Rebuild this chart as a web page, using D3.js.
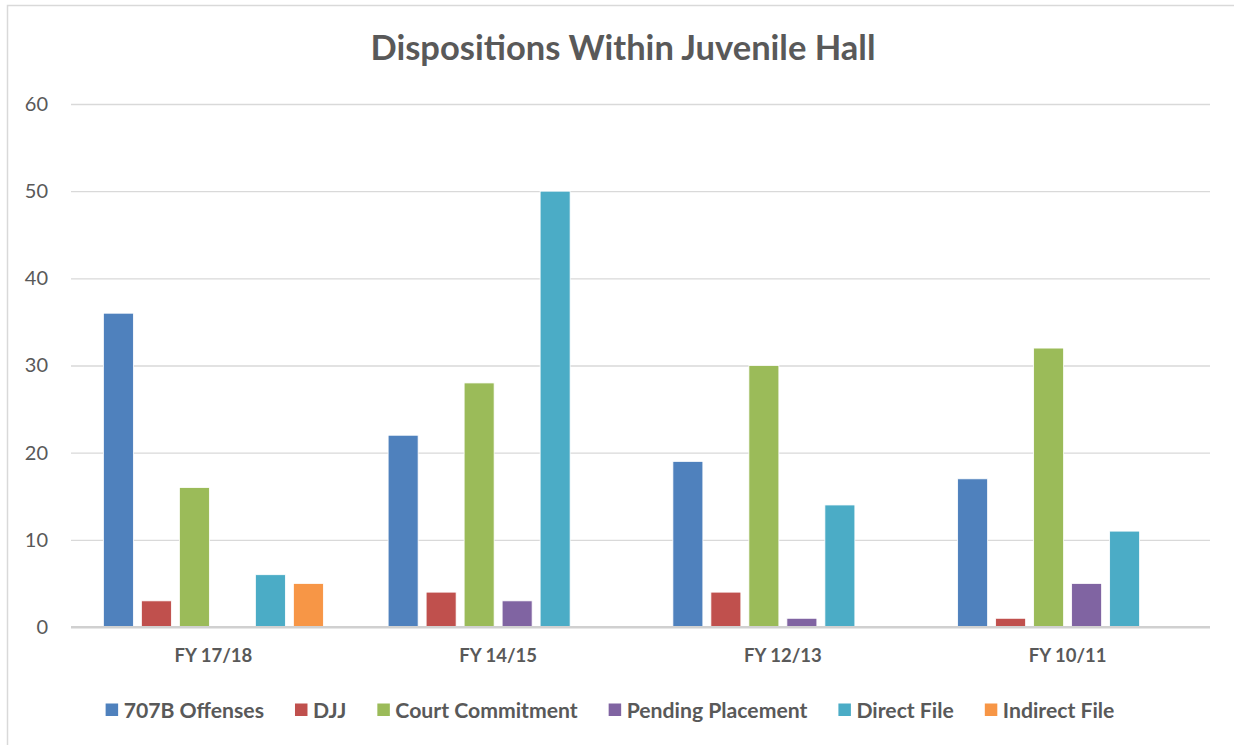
<!DOCTYPE html>
<html>
<head>
<meta charset="utf-8">
<script src="https://cdn.jsdelivr.net/npm/d3@7"></script>
<style>
  body { margin: 0; background: #fff; }
  svg { display: block; font-family: Lato, "Open Sans", sans-serif; }
</style>
</head>
<body>
<div id="chart"></div>
<script>
// DATA
const categories = ["FY 17/18", "FY 14/15", "FY 12/13", "FY 10/11"];
const seriesNames = ["707B Offenses", "DJJ", "Court Commitment", "Pending Placement", "Direct File", "Indirect File"];
const offenses707B = [36, 22, 19, 17];
const djj = [3, 4, 4, 1];
const courtCommitment = [16, 28, 30, 32];
const pendingPlacement = [0, 3, 1, 5];
const directFile = [6, 50, 14, 11];
const indirectFile = [5, 0, 0, 0];
const yTicks = [0, 10, 20, 30, 40, 50, 60];
const colors = ["#4f81bd", "#c0504d", "#9bbb59", "#8064a2", "#4bacc6", "#f79646"];

const seriesValues = [offenses707B, djj, courtCommitment, pendingPlacement, directFile, indirectFile];

function render() {
    const width = 1234, height = 745;
    const plot = { left: 71, right: 1210, top: 104, bottom: 627 };
    const textColor = "#595959";

    const svg = d3.select('#chart').append('svg')
        .attr('width', width)
        .attr('height', height);

    // chart border
    svg.append('rect')
        .attr('x', 7.5).attr('y', 5.5)
        .attr('width', 1240).attr('height', 760)
        .attr('fill', '#fff')
        .attr('stroke', '#d9d9d9')
        .attr('stroke-width', 1.5);

    // title
    svg.append('text')
        .attr('x', 623).attr('y', 60)
        .attr('text-anchor', 'middle')
        .attr('font-size', 34.5)
        .attr('font-weight', 700)
        .attr('fill', textColor)
        .text('Dispositions Within Juvenile Hall');

    const y = d3.scaleLinear().domain([0, 60]).range([plot.bottom, plot.top]);
    const x0 = d3.scaleBand().domain(categories).range([plot.left, plot.right]);
    // 6 bars, 30px wide with 8px between, centred in each band
    const x1 = d3.scaleBand().domain(seriesNames)
        .range([x0.bandwidth() / 2 - 110, x0.bandwidth() / 2 + 110])
        .paddingInner(8 / 38);

    // gridlines + y labels
    const yAxis = svg.append('g')
        .attr('transform', `translate(${plot.left},0)`)
        .call(d3.axisLeft(y).tickValues(yTicks).tickSize(-(plot.right - plot.left)).tickPadding(23));
    yAxis.select('.domain').remove();
    yAxis.selectAll('.tick line')
        .attr('stroke', d => d === 0 ? '#d0d0d0' : '#d9d9d9')
        .attr('stroke-width', d => d === 0 ? 2 : 1.3);
    yAxis.selectAll('.tick text')
        .attr('font-size', 20)
        .attr('font-family', 'Lato, sans-serif')
        .attr('fill', textColor);

    // bars
    const groups = svg.append('g').selectAll('g')
        .data(categories)
        .enter().append('g')
        .attr('transform', d => `translate(${x0(d)},0)`);

    groups.selectAll('rect')
        .data((d, i) => seriesNames.map((s, j) => ({ s, j, v: seriesValues[j][i] })))
        .enter().append('rect')
        .filter(d => d.v > 0)
        .attr('x', d => x1(d.s))
        .attr('width', x1.bandwidth())
        .attr('y', d => y(d.v))
        .attr('height', d => y(0) - y(d.v))
        .attr('fill', d => colors[d.j])
        .attr('stroke', '#fff')
        .attr('stroke-width', 0.8);

    // redraw baseline on top
    svg.append('line')
        .attr('x1', plot.left).attr('x2', plot.right)
        .attr('y1', y(0)).attr('y2', y(0))
        .attr('stroke', '#d0d0d0').attr('stroke-width', 2);

    // category labels
    const xAxis = svg.append('g')
        .attr('transform', `translate(0,${plot.bottom})`)
        .call(d3.axisBottom(x0).tickSize(0).tickPadding(22));
    xAxis.select('.domain').remove();
    xAxis.selectAll('.tick text')
        .attr('font-size', 18.5)
        .attr('font-weight', 700)
        .attr('font-family', 'Lato, sans-serif')
        .attr('fill', textColor);

    // legend
    const legend = svg.append('g').attr('class', 'legend');
    const items = legend.selectAll('g')
        .data(seriesNames)
        .enter().append('g');
    items.append('rect')
        .attr('y', 703.5).attr('width', 12.5).attr('height', 12.5)
        .attr('fill', (d, i) => colors[i]);
    items.append('text')
        .attr('x', 18).attr('y', 718)
        .attr('font-size', 21.2)
        .attr('font-weight', 700)
        .attr('fill', textColor)
        .text(d => d);

    let cursor = 0;
    const offsets = [];
    items.each(function () {
        const w = d3.select(this).select('text').node().getComputedTextLength();
        offsets.push(cursor);
        cursor += 18 + w + 31;
    });
    const total = cursor - 31;
    const start = 610 - total / 2;
    items.attr('transform', (d, i) => `translate(${start + offsets[i]},0)`);
}

window.onload = render;
</script>
</body>
</html>
